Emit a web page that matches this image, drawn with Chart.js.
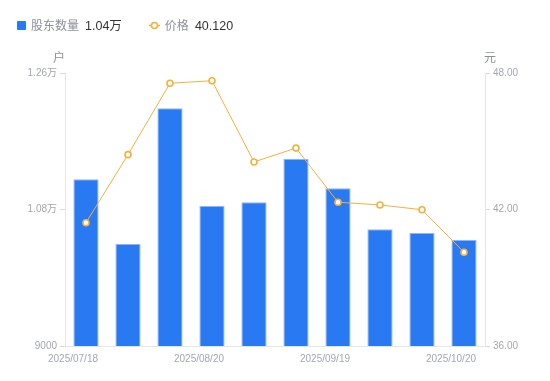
<!DOCTYPE html>
<html>
<head>
<meta charset="utf-8">
<script src="https://cdn.jsdelivr.net/npm/chart.js@4.4.1/dist/chart.umd.min.js"></script>
<style>
  html, body { margin: 0; padding: 0; background: #fff; }
  #wrap { position: relative; width: 550px; height: 381px; }
  #legend { position: absolute; left: 17px; top: 17px; display: flex; align-items: center; height: 16px; }
  .item { display: flex; align-items: center; margin-right: 27px; }
  .name { color: #8c909b; margin-left: 5px; font: 12px/16px 'Noto Sans CJK SC', sans-serif; }
  .val { color: #333; margin-left: 6px; font: 12.5px/16px 'Liberation Sans', 'Noto Sans CJK SC', sans-serif; position: relative; top: 1px; }
  .sq { width: 9px; height: 9px; background: #2979f2; border-radius: 1px; }
</style>
</head>
<body>
<div id="wrap">
  <canvas id="chart" width="550" height="381"></canvas>
  <div id="legend"></div>
</div>
<script>
const dates = ['2025/07/18', '2025/07/31', '2025/08/10', '2025/08/20', '2025/08/29',
               '2025/09/10', '2025/09/19', '2025/09/30', '2025/10/10', '2025/10/20'];
const holders = [11200, 10345, 12135, 10846, 10895, 11470, 11080, 10540, 10490, 10398];
const prices = [41.42, 44.41, 47.55, 47.66, 44.09, 44.70, 42.32, 42.20, 41.99, 40.12];
const leftTicks = [9000, 10800, 12600];
const rightTicks = [36, 42, 48];
const shownDates = [0, 3, 6, 9];

const blue = '#2979f2';
const orange = '#f6b03c';
const tickColor = '#a3a7b3';
const lineColor = '#e6e6e6';
const fontFam = "'Liberation Sans', 'Noto Sans CJK SC', sans-serif";

function fmtHolders(v) {
    return v >= 10000 ? (v / 10000).toFixed(2) + '万' : String(v);
}

// legend
const legend = document.getElementById('legend');
legend.innerHTML =
    '<div class="item"><div class="sq"></div><span class="name">股东数量</span><span class="val">' +
    fmtHolders(holders[holders.length - 1]) + '</span></div>' +
    '<div class="item"><svg width="11" height="9"><line x1="0" y1="4.5" x2="11" y2="4.5" stroke="' + orange +
    '" stroke-width="1.5"/><circle cx="5.5" cy="4.5" r="3" fill="#fff" stroke="' + orange +
    '" stroke-width="1.6"/></svg><span class="name">价格</span><span class="val">' +
    prices[prices.length - 1].toFixed(3) + '</span></div>';

// unit labels above the y axes
const unitTitles = {
    id: 'unitTitles',
    afterDraw(chart) {
        const ctx = chart.ctx;
        const area = chart.chartArea;
        ctx.save();
        ctx.font = "12px 'Noto Sans CJK SC', sans-serif";
        ctx.fillStyle = '#8c909b';
        ctx.textAlign = 'center';
        ctx.textBaseline = 'middle';
        ctx.fillText('户', area.left - 6, area.top - 16);
        ctx.fillText('元', area.right + 5, area.top - 16);
        ctx.restore();
    }
};

new Chart(document.getElementById('chart').getContext('2d'), {
    data: {
        labels: dates,
        datasets: [{
            type: 'line',
            label: '价格',
            data: prices,
            yAxisID: 'y1',
            borderColor: orange,
            borderWidth: 1,
            pointRadius: 3,
            pointBorderWidth: 1.6,
            pointBackgroundColor: '#fff',
            pointBorderColor: orange,
            tension: 0,
            order: 0
        }, {
            type: 'bar',
            label: '股东数量',
            data: holders,
            yAxisID: 'y',
            backgroundColor: blue,
            borderColor: '#8db6f7',
            borderWidth: { top: 1, left: 1, right: 1, bottom: 0 },
            categoryPercentage: 1,
            barPercentage: 0.6,
            order: 1
        }]
    },
    options: {
        responsive: false,
        animation: false,
        layout: { padding: { top: 73, left: 0, right: 0, bottom: 0 } },
        plugins: {
            legend: { display: false },
            tooltip: { enabled: false }
        },
        scales: {
            x: {
                grid: { display: false, drawTicks: false },
                border: { display: true, color: lineColor },
                ticks: {
                    color: tickColor,
                    font: { size: 10, family: fontFam },
                    padding: 7,
                    maxRotation: 0,
                    autoSkip: false,
                    labelOffset: -13,
                    callback: (v, i) => shownDates.includes(i) ? dates[i] : ''
                },
                afterFit: s => { s.height = 35; }
            },
            y: {
                position: 'left',
                min: leftTicks[0],
                max: leftTicks[leftTicks.length - 1],
                afterBuildTicks: s => { s.ticks = leftTicks.map(v => ({ value: v })); },
                grid: { drawOnChartArea: false, color: '#d9d9d9', tickLength: 5 },
                border: { color: lineColor },
                ticks: {
                    color: tickColor,
                    font: { size: 10, family: fontFam },
                    padding: 3,
                    callback: v => fmtHolders(v)
                },
                afterFit: s => { s.width = 65; }
            },
            y1: {
                position: 'right',
                min: rightTicks[0],
                max: rightTicks[rightTicks.length - 1],
                afterBuildTicks: s => { s.ticks = rightTicks.map(v => ({ value: v })); },
                grid: { drawOnChartArea: false, color: '#d9d9d9', tickLength: 5 },
                border: { color: lineColor },
                ticks: {
                    color: tickColor,
                    font: { size: 10, family: fontFam },
                    padding: 3,
                    callback: v => v.toFixed(2)
                },
                afterFit: s => { s.width = 65; }
            }
        }
    },
    plugins: [unitTitles]
});
</script>
</body>
</html>
